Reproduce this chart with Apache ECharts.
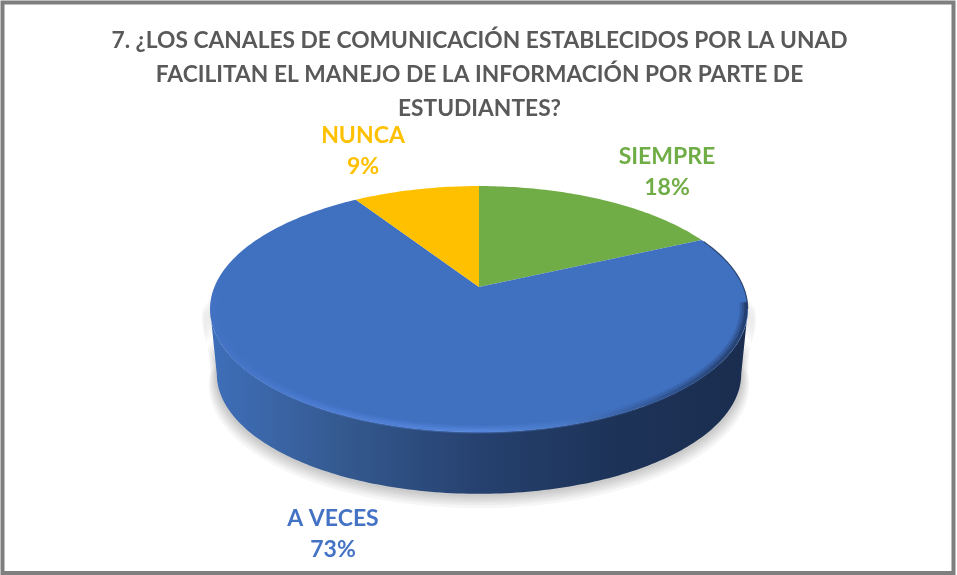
<!DOCTYPE html>
<html><head><meta charset="utf-8">
<style>html,body{margin:0;padding:0;background:#fff}#c{width:957px;height:575px}</style>
<script src="https://cdn.jsdelivr.net/npm/echarts@6/dist/echarts.min.js"></script>
</head><body><div id="c"></div>
<script>
const categories = ['SIEMPRE', 'A VECES', 'NUNCA'];
const values = [18, 73, 9];
const colors = ['#70AD47', '#4472C4', '#FFC000'];
const faceColors = ['#70AD47', '#4070C0', '#FFC000'];
const titleText = '7. ¿LOS CANALES DE COMUNICACIÓN ESTABLECIDOS POR LA UNAD\nFACILITAN EL MANEJO DE LA INFORMACIÓN POR PARTE DE\nESTUDIANTES?';

const labelCenters = [[667, 172.5], [333, 534], [363, 151.5]];
const hub = [479, 287], A = 264.6, B = 119, K = -0.179, DEPTH = 65.5, SHRINK = 0.975;
const total = values.reduce((a, b) => a + b, 0);
const startOf = i => values.slice(0, i).reduce((a, b) => a + b, 0) / total * 360;

function project(deg, scale, dy) {
  const t = deg * Math.PI / 180, u = Math.sin(t), v = -Math.cos(t), d = 1 + K * v;
  return [hub[0] + scale * A * u / d, hub[1] + dy + scale * B * v / d];
}
function arc(a, b, scale, dy) {
  const pts = [], n = Math.max(2, Math.ceil(Math.abs(b - a)));
  for (let i = 0; i <= n; i++) pts.push(project(a + (b - a) * i / n, scale, dy));
  return pts;
}
const FRONT_A = 100.3, FRONT_B = 259.7;
const rimGradient = () => new echarts.graphic.LinearGradient(0, 0, 1, 0, [
  { offset: 0, color: '#4472C4' }, { offset: 0.2, color: '#4F80D8' }, { offset: 0.5, color: '#5A8CE4' },
  { offset: 0.66, color: '#4A7AC8' }, { offset: 0.85, color: '#2A4A82' }, { offset: 1, color: '#1A2D4F' }]);

function renderItem(params, api) {
  const i = params.dataIndex, val = api.value(0);
  const a0 = startOf(i), a1 = a0 + val / total * 360;
  const children = [];
  const s0 = Math.max(a0, FRONT_A), s1 = Math.min(a1, FRONT_B);
  if (s1 > s0) {
    const top = arc(s0, s1, 1, 0), bot = arc(s1, s0, SHRINK, DEPTH);
    [[0.03, 10], [0.025, 8], [0.02, 6.5], [0.015, 5], [0.01, 3.5], [0.006, 2]].forEach(([grow, dy]) => {
      children.push({
        type: 'polygon', z2: 1,
        shape: { points: arc(s0 - 6, s1 + 6, 1 + grow, dy).concat(arc(s1 + 6, s0 - 6, SHRINK + grow, DEPTH + dy)) },
        style: { fill: 'rgba(0,0,0,0.035)' }
      });
    });
    children.push({
      type: 'polygon', z2: 1,
      shape: { points: top.concat(bot) },
      style: {
        fill: new echarts.graphic.LinearGradient(0, 0, 1, 0, [
          { offset: 0, color: '#3F6FBA' }, { offset: 0.25, color: '#34598F' },
          { offset: 0.5, color: '#26416F' }, { offset: 0.75, color: '#1D3358' },
          { offset: 1, color: '#1A2D4F' }])
      }
    });
  }
  children.push({
    type: 'polygon', z2: 2,
    shape: { points: [hub].concat(arc(a0, a1, 1, 0)) },
    style: { fill: faceColors[i] }
  });
  if (s1 > s0) {
    [[8, 0.22, 0.984], [5.5, 0.3, 0.988], [3, 0.5, 0.992]].forEach(([w, op, sc]) => {
      children.push({
        type: 'polyline', z2: 3,
        shape: { points: arc(s0 - 3, s1 + 8, sc, 0) },
        style: { fill: null, lineWidth: w, opacity: op, stroke: rimGradient() }
      });
    });
    children.push({
      type: 'polyline', z2: 3,
      shape: { points: arc(a0 + 1, s0, 0.999, 0) },
      style: { fill: null, lineWidth: 1.2, stroke: '#1A2D4F', opacity: 0.7 }
    });
  }
  const c = labelCenters[i];
  children.push({
    type: 'text', z2: 5, x: c[0], y: c[1],
    style: {
      text: categories[i] + '\n' + val + '%',
      x: 0, y: 0, align: 'center', verticalAlign: 'middle',
      fill: colors[i], font: 'bold 23px Lato', lineHeight: 31
    }
  });
  return { type: 'group', children };
}

const chart = echarts.init(document.getElementById('c'), null, { renderer: 'canvas' });
chart.setOption({
  animation: false,
  backgroundColor: '#fff',
  title: {
    text: titleText, left: 474.5, top: 18.5, textAlign: 'center',
    textStyle: { fontFamily: 'Lato', fontWeight: 'bold', fontSize: 22.75, lineHeight: 34, color: '#595959' }
  },
  graphic: [{
    type: 'rect', z: 100, silent: true,
    shape: { x: 2.5, y: 2.5, width: 951, height: 570.5 },
    style: { fill: null, stroke: '#7F7F7F', lineWidth: 4 }
  }],
  series: [{
    type: 'custom', coordinateSystem: 'none', renderItem,
    data: values.map((v, i) => ({ name: categories[i], value: [v] }))
  }]
});
</script></body></html>
